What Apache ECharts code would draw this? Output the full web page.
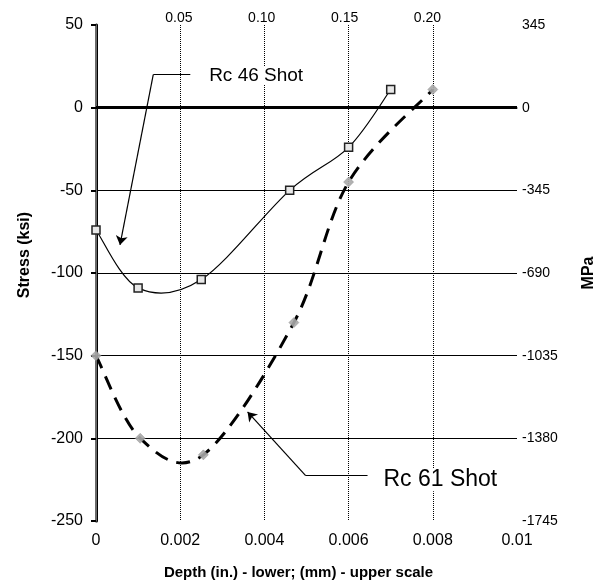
<!DOCTYPE html>
<html>
<head>
<meta charset="utf-8">
<script src="https://cdn.jsdelivr.net/npm/echarts@6/dist/echarts.min.js"></script>
<style>
  html, body { margin: 0; padding: 0; background: #fff; }
  #chart { width: 603px; height: 585px; }
</style>
</head>
<body>
<div id="chart"></div>
<script>
// depth in inches, stress in ksi
var rc46 = [[0, -74], [0.001, -109], [0.0025, -104], [0.0046, -50], [0.006, -24], [0.007, 11]];
var rc61 = [[0, -150], [0.00105, -200], [0.00255, -210], [0.0047, -130], [0.006, -45], [0.008, 11]];
var mpaLabels = ['345', '0', '-345', '-690', '-1035', '-1380', '-1745'];
var rc46Leader = [[0.00224, 20], [0.00136, 20]];
var rc46Arrow = [[0.00136, 20], [0.00057, -83]];
var rc61Leader = [[0.00645, -222.5], [0.00498, -222.5]];
var rc61Arrow = [[0.00498, -222.5], [0.0036, -184]];
var notes = [[0.00264, 19.5, 'Rc 46 Shot'], [0.00678, -225, 'Rc 61 Shot']];
var noteSizes = [19, 23];

var font = 'Liberation Sans, Arial, sans-serif';
var chart = echarts.init(document.getElementById('chart'));

// Excel-like smoothed curve through the data points (Catmull-Rom as cubic Bezier)
function smoothCurve(points, style) {
  return {
    type: 'custom',
    data: [0],
    silent: true,
    z: 2,
    renderItem: function (params, api) {
      var p = points.map(function (d) { return api.coord(d); });
      var path = 'M' + p[0][0] + ' ' + p[0][1];
      for (var i = 0; i < p.length - 1; i++) {
        var p0 = p[i - 1] || p[i], p1 = p[i], p2 = p[i + 1], p3 = p[i + 2] || p[i + 1];
        var c1x = p1[0] + (p2[0] - p0[0]) / 6, c1y = p1[1] + (p2[1] - p0[1]) / 6;
        var c2x = p2[0] - (p3[0] - p1[0]) / 6, c2y = p2[1] - (p3[1] - p1[1]) / 6;
        path += ' C' + c1x + ' ' + c1y + ' ' + c2x + ' ' + c2y + ' ' + p2[0] + ' ' + p2[1];
      }
      return { type: 'path', shape: { pathData: path }, style: style };
    }
  };
}

var option = {
  animation: false,
  textStyle: { fontFamily: font },
  grid: { left: 96, right: 86, top: 25, bottom: 64, outerBoundsMode: 'none' },
  xAxis: [
    {
      type: 'value', position: 'bottom', min: 0, max: 0.01, interval: 0.002,
      name: 'Depth (in.) - lower; (mm) - upper scale', nameLocation: 'middle', nameGap: 44,
      nameTextStyle: { fontSize: 15, fontWeight: 'bold', color: '#000', padding: [0, 16, 0, 0] },
      axisLine: { lineStyle: { color: '#8c8c8c', width: 1.5 } },
      axisTick: { show: false },
      axisLabel: { fontSize: 16, color: '#000', margin: 12, formatter: function (v) { return v === 0 ? '0' : String(+v.toFixed(3)); } },
      splitLine: { show: true, showMinLine: false, showMaxLine: false, lineStyle: { color: '#000', type: 'dotted', width: 1 } }
    },
    {
      type: 'value', position: 'top', min: 0, max: 0.254, interval: 0.05,
      axisLine: { lineStyle: { color: '#8c8c8c', width: 1.5 } },
      axisTick: { show: false },
      axisLabel: { fontSize: 14, color: '#000', margin: 0, formatter: function (v) { return (v === 0 || v > 0.22) ? '' : v.toFixed(2); } },
      splitLine: { show: false }
    }
  ],
  yAxis: [
    {
      type: 'value', position: 'left', min: -250, max: 50, interval: 50,
      name: 'Stress (ksi)', nameLocation: 'middle', nameGap: 63,
      nameTextStyle: { fontSize: 16, fontWeight: 'bold', color: '#000', padding: [0, 0, 0, 36] },
      axisLine: { lineStyle: { color: '#000', width: 3 } },
      axisTick: { show: true, length: 5, lineStyle: { color: '#000', width: 2 } },
      axisLabel: { fontSize: 16, color: '#000', margin: 13 },
      splitLine: { show: true, showMinLine: false, showMaxLine: false, lineStyle: { color: '#000', width: 1.2 } }
    },
    {
      type: 'value', position: 'right', min: -250, max: 50, interval: 50,
      name: 'MPa', nameLocation: 'middle', nameGap: 64, nameRotate: 90,
      nameTextStyle: { fontSize: 16, fontWeight: 'bold', color: '#000' },
      axisLine: { show: true, lineStyle: { color: '#8c8c8c', width: 1.5 } },
      axisTick: { show: false },
      axisLabel: { fontSize: 14, color: '#000', margin: 5, formatter: function (v) { return mpaLabels[Math.round((50 - v) / 50)]; } },
      splitLine: { show: false }
    }
  ],
  series: [
    Object.assign(smoothCurve(rc61, { fill: 'none', stroke: '#000', lineWidth: 3, lineDash: [14, 9] }), {
      markLine: {
        silent: true, symbol: 'none', label: { show: false },
        lineStyle: { color: '#000', width: 3, type: 'solid' },
        data: [{ yAxis: 0 }]
      }
    }),
    smoothCurve(rc46, { fill: 'none', stroke: '#000', lineWidth: 1.2 }),
    {
      name: 'Rc 61 Shot', type: 'scatter', data: rc61,
      symbol: 'diamond', symbolSize: 10,
      itemStyle: { color: '#a8a8a8', borderColor: '#888', borderWidth: 0.5, opacity: 0.9 },
      z: 3
    },
    {
      name: 'Rc 46 Shot', type: 'scatter', data: rc46,
      symbol: 'rect', symbolSize: 8,
      itemStyle: { color: '#e8e8e8', borderColor: '#222', borderWidth: 1.5, opacity: 1 },
      z: 4
    },
    {
      type: 'lines', coordinateSystem: 'cartesian2d', polyline: false,
      symbol: 'none',
      lineStyle: { color: '#000', width: 1.2, opacity: 1, curveness: 0 },
      data: [{ coords: rc46Leader }, { coords: rc61Leader }],
      z: 5
    },
    {
      type: 'lines', coordinateSystem: 'cartesian2d', polyline: false,
      symbol: ['none', 'arrow'], symbolSize: [0, 9],
      lineStyle: { color: '#000', width: 1.2, opacity: 1, curveness: 0 },
      data: [{ coords: rc46Arrow }, { coords: rc61Arrow }],
      z: 5
    },
    {
      type: 'scatter', symbolSize: 0,
      itemStyle: { opacity: 1 },
      data: notes.map(function (n, i) { return { value: n, label: { fontSize: noteSizes[i] } }; }),
      label: {
        show: true, position: 'right', distance: 0, color: '#000',
        backgroundColor: '#fff', padding: [0, 2],
        formatter: function (p) { return p.value[2]; }
      },
      z: 6
    }
  ]
};
chart.setOption(option);
</script>
</body>
</html>
